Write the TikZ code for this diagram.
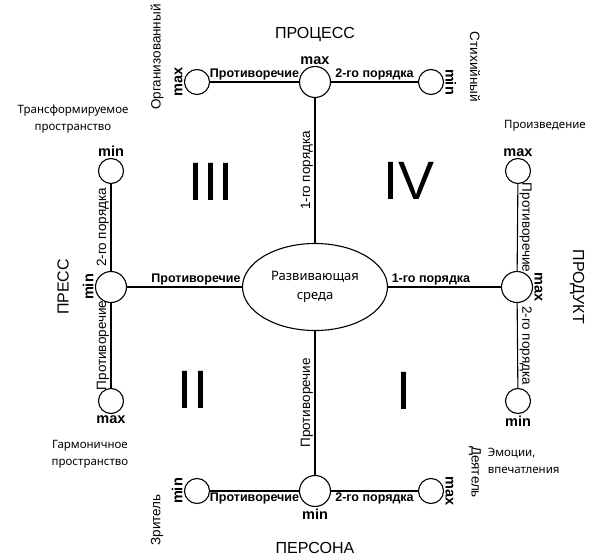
\documentclass[tikz,border=0pt]{standalone}
\usepackage{fontspec}
\setmainfont{Liberation Sans}
\newfontfamily\notosans{Noto Sans}
\usetikzlibrary{shapes.geometric}
\begin{document}
\begin{tikzpicture}[x=1pt,y=-1pt, line width=1.1pt, %Escala em pontos, eixo y para baixo
	polo/.style={circle, draw, minimum size=31pt, inner sep=0pt},
	extremo/.style={circle, draw, minimum size=25pt, inner sep=0pt},
	rotulo/.style={font=\fontsize{12.5}{14}\selectfont\bfseries, inner sep=1.5pt},
	vertical/.style={font=\fontsize{13.5}{15}\selectfont, inner sep=1.5pt},
	grau/.style={font=\fontsize{14.5}{16}\selectfont\bfseries, inner sep=1pt},
	nome/.style={font=\fontsize{16}{18}\selectfont},
	nota/.style={font=\notosans\fontsize{11.5}{17}\selectfont, align=center},
	nota2/.style={font=\fontsize{13.5}{15}\selectfont},
	quadrante/.style={font=\fontsize{54}{54}\selectfont}]
	\useasboundingbox (0,0) rectangle (592,559);
	%Centro
	\node[ellipse, draw, minimum width=145pt, minimum height=87pt, align=center,
		font=\notosans\fontsize{13}{19}\selectfont] (centro) at (315,287) {Развивающая\\среда};
	%Polos
	\node[polo] (processo) at (315,82) {};
	\node[polo] (persona) at (315,491) {};
	\node[polo] (press) at (111,287) {};
	\node[polo] (produto) at (517,287) {};
	%Extremos
	\node[extremo] (procMax) at (197,82) {};
	\node[extremo] (procMin) at (431,82) {};
	\node[extremo] (persMin) at (197,491) {};
	\node[extremo] (persMax) at (431,491) {};
	\node[extremo] (pressMin) at (111,171) {};
	\node[extremo] (pressMax) at (111,401) {};
	\node[extremo] (prodMax) at (518,171) {};
	\node[extremo] (prodMin) at (518,401) {};
	%Eixos
	\draw (centro) -- node[vertical, midway, rotate=90, anchor=south] {1-го порядка} (processo);
	\draw (centro) -- node[vertical, midway, rotate=90, anchor=south] {Противоречие} (persona);
	\draw (press) -- node[rotulo, pos=0.6, above] {Противоречие} (centro);
	\draw (centro) -- node[rotulo, pos=0.38, above] {1-го порядка} (produto);
	\draw (procMax) -- node[rotulo, above] {Противоречие} (processo);
	\draw (processo) -- node[rotulo, above] {2-го порядка} (procMin);
	\draw (persMin) -- node[rotulo, below] {Противоречие} (persona);
	\draw (persona) -- node[rotulo, below] {2-го порядка} (persMax);
	\draw (pressMin) -- node[vertical, midway, rotate=90, anchor=south] {2-го порядка} (press);
	\draw (press) -- node[vertical, midway, rotate=90, anchor=south] {Противоречие} (pressMax);
	\draw (prodMax) -- node[vertical, midway, rotate=-90, anchor=south] {Противоречие} (produto);
	\draw (produto) -- node[vertical, midway, rotate=-90, anchor=south] {2-го порядка} (prodMin);
	%max e min
	\node[grau, above] (gProc) at (processo.north) {max};
	\node[grau, below] (gPers) at (persona.south) {min};
	\node[grau, rotate=90, anchor=south] (gPress) at (press.west) {min};
	\node[grau, rotate=-90, anchor=south] (gProd) at (produto.east) {max};
	\node[grau, rotate=90, anchor=south] (gProcMax) at (procMax.west) {max};
	\node[grau, rotate=-90, anchor=south] (gProcMin) at (procMin.east) {min};
	\node[grau, rotate=90, anchor=south] (gPersMin) at (persMin.west) {min};
	\node[grau, rotate=-90, anchor=south] (gPersMax) at (persMax.east) {max};
	\node[grau, above] (gPressMin) at (pressMin.north) {min};
	\node[grau, below] (gPressMax) at (pressMax.south) {max};
	\node[grau, above] (gProdMax) at (prodMax.north) {max};
	\node[grau, below] (gProdMin) at (prodMin.south) {min};
	%Nomes dos polos
	\node[nome] (tProc) at (315,35) {ПРОЦЕСС};
	\node[nome] (tPers) at (315,548) {ПЕРСОНА};
	\node[nome, rotate=90] (tPress) at (63,287) {ПРЕСС};
	\node[nome, rotate=-90] (tProd) at (577,287) {ПРОДУКТ};
	%Notas
	\node[nota2, rotate=90] (nOrg) at (157,57) {Организованный};
	\node[nota2, rotate=-90] (nStix) at (475,67) {Стихийный};
	\node[nota2, rotate=90] (nZrit) at (157,520) {Зритель};
	\node[nota2, rotate=-90] (nDeyat) at (475,472) {Деятель};
	\node[nota] (nTrans) at (73,119) {Трансформируемое\\пространство};
	\node[nota] (nGarm) at (90,454) {Гармоничное\\пространство};
	\node[nota] (nProiz) at (545,126) {Произведение};
	\node[nota, align=left, anchor=west] (nEmo) at (484,461) {Эмоции,\\впечатления};
	%Quadrantes
	\node[quadrante] (q3) at (211,182) {III};
	\node[quadrante] (q4) at (409,181) {IV};
	\node[quadrante] (q2) at (193,390) {II};
	\node[quadrante] (q1) at (404,391) {I};
\end{tikzpicture}
\end{document}
